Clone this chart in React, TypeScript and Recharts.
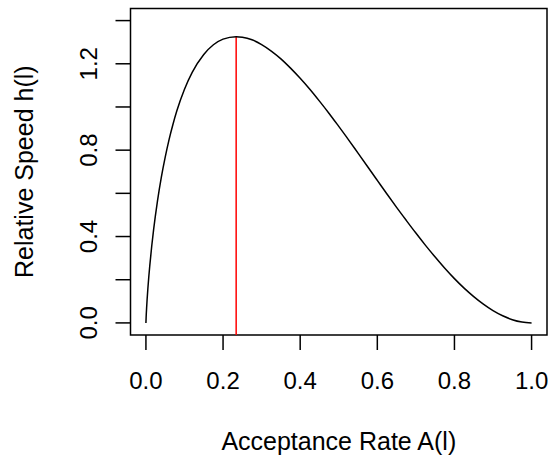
import { LineChart, Line, XAxis, YAxis, ReferenceLine, ReferenceArea } from 'recharts';

// acceptance rate A(l) and relative speed h(l)
const acceptance = [
  0, 0.0005, 0.002, 0.003, 0.005, 0.0075, 0.01, 0.015, 0.02, 0.03, 0.04, 0.05, 0.06, 0.07, 0.08,
  0.1, 0.12, 0.15, 0.175, 0.2, 0.234, 0.25, 0.275, 0.3, 0.325, 0.35, 0.375, 0.4, 0.425, 0.45,
  0.475, 0.5, 0.525, 0.55, 0.575, 0.6, 0.625, 0.65, 0.675, 0.7, 0.725, 0.75, 0.775, 0.8, 0.825,
  0.85, 0.875, 0.9, 0.925, 0.95, 0.975, 1.0,
];
const speed = [
  0, 0.024, 0.076, 0.106, 0.158, 0.215, 0.265, 0.355, 0.433, 0.565, 0.675, 0.768, 0.849, 0.919, 0.981,
  1.082, 1.16, 1.243, 1.288, 1.314, 1.3255, 1.323, 1.311, 1.289, 1.259, 1.223, 1.18, 1.133, 1.082, 1.027,
  0.97, 0.91, 0.849, 0.786, 0.723, 0.66, 0.597, 0.535, 0.475, 0.416, 0.359, 0.305, 0.253, 0.205, 0.161,
  0.122, 0.087, 0.057, 0.033, 0.015, 0.004, 0,
];
const optimum = { a: 0.234, h: 1.3255 };

const xTicks = [0, 0.2, 0.4, 0.6, 0.8, 1.0];
const yTicks = [0, 0.2, 0.4, 0.6, 0.8, 1.0, 1.2, 1.4];
const yLabelled = [0, 0.4, 0.8, 1.2];

const xDomain: [number, number] = [-0.04, 1.04];
const yDomain: [number, number] = [-0.056, 1.456];

const data = acceptance.map((a, i) => ({ a, h: speed[i] }));

const FONT = '"Liberation Sans", Arial, Helvetica, sans-serif';
const FS = 24;
const TITLE_FS = 25;

function XTick(props: any) {
  const { x, y, payload } = props;
  return (
    <text x={x} y={y + 39} textAnchor="middle" fontFamily={FONT} fontSize={FS} fill="#000">
      {payload.value.toFixed(1)}
    </text>
  );
}

function YTick(props: any) {
  const { x, y, payload } = props;
  const v = payload.value;
  if (!yLabelled.some((t) => Math.abs(t - v) < 1e-9)) return <g />;
  return (
    <text
      transform={`translate(${x - 19},${y}) rotate(-90)`}
      textAnchor="middle"
      fontFamily={FONT}
      fontSize={FS}
      fill="#000"
    >
      {v.toFixed(1)}
    </text>
  );
}

export default function App() {
  return (
    <div style={{ position: 'absolute', left: 0, top: 0, width: 548, height: 460, background: '#fff' }}>
      <LineChart width={548} height={460} data={data} margin={{ top: 8.5, right: 1, bottom: 0, left: 0 }}>
        <XAxis
          dataKey="a"
          type="number"
          domain={xDomain}
          ticks={xTicks}
          interval={0}
          allowDataOverflow
          height={125}
          axisLine={false}
          tickLine={{ stroke: '#000', strokeWidth: 1.5 }}
          tickSize={15}
          tickMargin={0}
          tick={<XTick />}
          label={{
            content: () => (
              <text x={338.8} y={450} textAnchor="middle" fontFamily={FONT} fontSize={TITLE_FS} fill="#000">
                Acceptance Rate A(l)
              </text>
            ),
          }}
        />
        <YAxis
          type="number"
          domain={yDomain}
          ticks={yTicks}
          interval={0}
          allowDataOverflow
          width={130.5}
          axisLine={false}
          tickLine={{ stroke: '#000', strokeWidth: 1.5 }}
          tickSize={15}
          tickMargin={0}
          tick={<YTick />}
          label={{
            content: () => (
              <text
                transform="translate(33,171.7) rotate(-90)"
                textAnchor="middle"
                fontFamily={FONT}
                fontSize={TITLE_FS}
                fill="#000"
              >
                Relative Speed h(l)
              </text>
            ),
          }}
        />
        <ReferenceArea
          x1={xDomain[0]}
          x2={xDomain[1]}
          y1={yDomain[0]}
          y2={yDomain[1]}
          fill="none"
          fillOpacity={0}
          stroke="#000"
          strokeWidth={1.5}
        />
        <ReferenceLine
          segment={[
            { x: optimum.a, y: yDomain[0] },
            { x: optimum.a, y: optimum.h },
          ]}
          stroke="#ff0000"
          strokeWidth={1.5}
        />
        <Line
          dataKey="h"
          type="monotone"
          stroke="#000"
          strokeWidth={1.5}
          dot={false}
          isAnimationActive={false}
        />
      </LineChart>
    </div>
  );
}
